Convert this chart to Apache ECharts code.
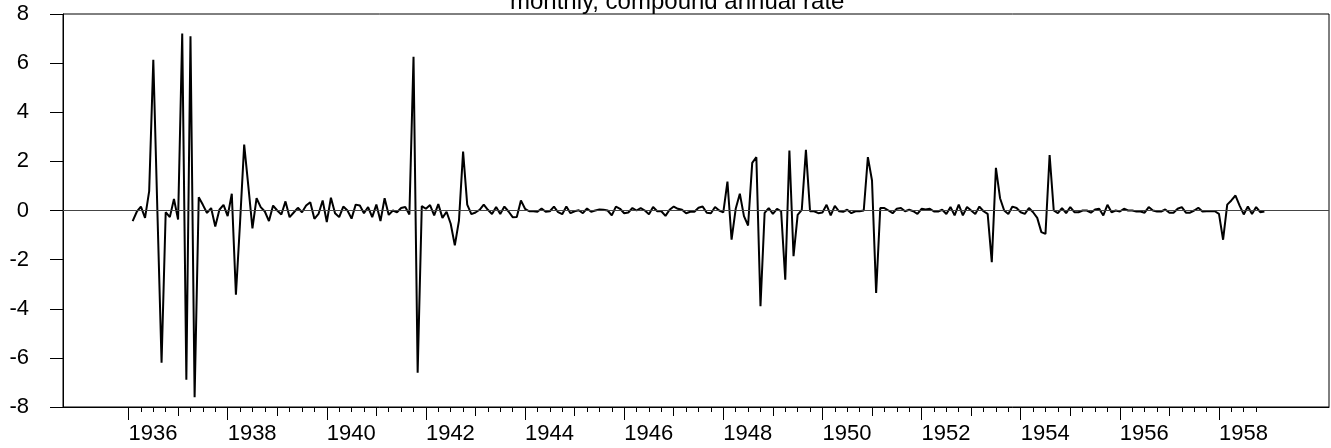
<!DOCTYPE html>
<html>
<head>
<meta charset="utf-8">
<script src="https://cdn.jsdelivr.net/npm/echarts@6/dist/echarts.min.js"></script>
<style>
html,body{margin:0;padding:0;background:#fff;}
#chart{width:1331px;height:448px;}
</style>
</head>
<body>
<div id="chart"></div>
<script>
const titleText = "monthly, compound annual rate";
const startYear = 1936;
const startMonth = 2;
const values = [
 -0.43, -0.05, 0.16, -0.30, 0.79, 6.14, -0.10, -6.20, -0.07, -0.27,
 0.47, -0.37, 7.21, -6.89, 7.09, -7.60, 0.54, 0.23, -0.10, 0.10,
 -0.65, 0.03, 0.23, -0.23, 0.68, -3.43, -0.50, 2.68, 1.00, -0.73,
 0.50, 0.14, -0.04, -0.43, 0.20, 0.00, -0.16, 0.37, -0.27, -0.08,
 0.11, -0.07, 0.20, 0.34, -0.34, -0.14, 0.41, -0.47, 0.52, -0.11,
 -0.27, 0.16, 0.00, -0.33, 0.24, 0.20, -0.11, 0.14, -0.27, 0.24,
 -0.43, 0.50, -0.18, 0.00, -0.07, 0.10, 0.14, -0.16, 6.26, -6.60,
 0.18, 0.07, 0.22, -0.20, 0.26, -0.30, -0.05, -0.54, -1.42, -0.41,
 2.40, 0.24, -0.15, -0.08, 0.03, 0.24, 0.03, -0.14, 0.14, -0.14,
 0.16, -0.04, -0.27, -0.26, 0.41, 0.07, -0.03, -0.03, -0.05, 0.08,
 -0.05, -0.03, 0.16, -0.07, -0.15, 0.16, -0.11, -0.03, 0.01, -0.11,
 0.08, -0.05, 0.00, 0.04, 0.03, 0.00, -0.20, 0.16, 0.07, -0.11,
 -0.08, 0.10, 0.00, 0.10, 0.00, -0.15, 0.14, -0.03, -0.03, -0.22,
 0.03, 0.16, 0.07, 0.03, -0.11, -0.05, -0.05, 0.11, 0.16, -0.09,
 -0.11, 0.14, 0.00, -0.08, 1.18, -1.19, 0.07, 0.68, -0.23, -0.61,
 1.94, 2.17, -3.90, -0.10, 0.10, -0.14, 0.07, -0.03, -2.82, 2.44,
 -1.86, -0.18, 0.03, 2.47, -0.03, -0.03, -0.11, -0.08, 0.23, -0.20,
 0.19, -0.03, -0.05, 0.03, -0.11, -0.03, -0.03, 0.00, 2.17, 1.22,
 -3.36, 0.10, 0.10, 0.00, -0.11, 0.07, 0.10, -0.03, 0.03, -0.03,
 -0.14, 0.07, 0.04, 0.07, -0.04, -0.04, 0.03, -0.14, 0.14, -0.20,
 0.24, -0.20, 0.14, 0.00, -0.14, 0.16, -0.03, -0.14, -2.10, 1.74,
 0.50, 0.00, -0.14, 0.16, 0.10, -0.07, -0.14, 0.10, -0.07, -0.30,
 -0.88, -0.95, 2.26, 0.00, -0.11, 0.10, -0.11, 0.14, -0.07, -0.07,
 0.00, 0.00, -0.09, 0.04, 0.07, -0.20, 0.23, -0.07, 0.00, -0.04,
 0.07, 0.00, 0.00, -0.04, -0.04, -0.09, 0.14, 0.00, -0.04, -0.04,
 0.04, -0.09, -0.09, 0.07, 0.14, -0.09, -0.09, 0.00, 0.11, -0.04,
 -0.03, -0.03, -0.03, -0.14, -1.19, 0.24, 0.41, 0.61, 0.20, -0.16,
 0.16, -0.14, 0.14, -0.07, -0.04
];
const labelYears = [1936,1938,1940,1942,1944,1946,1948,1950,1952,1954,1956,1958];
const oddYears = [1937,1939,1941,1943,1945,1947,1949,1951,1953,1955,1957];
const quarterTicks = [];
for (let y = 1936; y <= 1958.75 + 1e-9; y += 0.25) quarterTicks.push(+y.toFixed(2));
const yTicks = [-8,-6,-4,-2,0,2,4,6,8];

const xMin = 1934.678, xMax = 1960.22;
const seriesData = values.map((v, i) => [startYear + (startMonth - 1 + i) / 12, v]);

const chart = echarts.init(document.getElementById('chart'), null, {renderer: 'canvas'});
const font = "'Liberation Sans', Arial, sans-serif";
const baseX = {
  type: 'value', min: xMin, max: xMax, position: 'bottom',
  splitLine: {show: false}
};
chart.setOption({
  animation: false,
  backgroundColor: '#fff',
  title: {
    text: titleText, left: 505, top: -15,
    textStyle: {fontFamily: font, fontSize: 24, fontWeight: 'normal', color: '#000'}
  },
  grid: {left: 63, right: 2, top: 14, bottom: 41, show: true, borderColor: '#000', borderWidth: 1, outerBoundsMode: 'none'},
  xAxis: [
    Object.assign({}, baseX, {
      axisLine: {show: true, onZero: false, lineStyle: {color: '#000', width: 1}},
      axisTick: {show: true, customValues: labelYears, length: 13, lineStyle: {color: '#000'}},
      axisLabel: {customValues: labelYears, margin: 16, color: '#000', fontFamily: font, fontSize: 22,
        align: 'left', formatter: v => String(Math.round(v))}
    }),
    Object.assign({}, baseX, {
      axisLine: {show: false, onZero: false},
      axisTick: {show: true, customValues: oddYears, length: 9, lineStyle: {color: '#000'}},
      axisLabel: {show: true, customValues: oddYears, formatter: () => ''}
    }),
    Object.assign({}, baseX, {
      axisLine: {show: false, onZero: false},
      axisTick: {show: true, customValues: quarterTicks, length: 5, lineStyle: {color: '#000'}},
      axisLabel: {show: true, customValues: quarterTicks, formatter: () => ''}
    })
  ],
  yAxis: {
    type: 'value', min: -8, max: 8, interval: 2,
    axisLine: {show: true, lineStyle: {color: '#000', width: 1}},
    axisTick: {show: true, customValues: yTicks, length: 13, lineStyle: {color: '#000'}},
    axisLabel: {color: '#000', fontFamily: font, fontSize: 22, margin: 34},
    splitLine: {show: false}
  },
  series: [{
    type: 'line', xAxisIndex: 0, data: seriesData, showSymbol: false,
    lineStyle: {color: '#000', width: 2}, itemStyle: {color: '#000'},
    markLine: {
      silent: true, symbol: ['none','none'], label: {show: false},
      lineStyle: {color: '#444', width: 1, type: 'solid'},
      data: [{yAxis: 0}]
    }
  }]
});
</script>
</body>
</html>
